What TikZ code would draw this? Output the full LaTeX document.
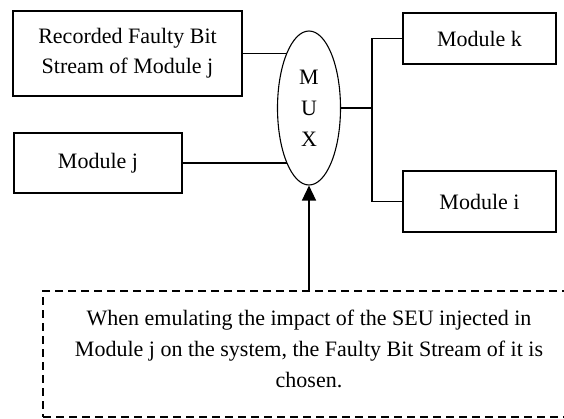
\documentclass[tikz,border=0pt]{standalone}
\usepackage{fontspec}
\setmainfont{Liberation Serif}
\usetikzlibrary{arrows.meta,shapes.geometric}
\tikzset{
  box/.style={draw, line width=2pt, rectangle, inner sep=0pt, align=center,
    font=\fontsize{22}{30}\selectfont},
  muxshape/.style={draw, line width=1.1pt, ellipse, inner sep=0pt, align=center,
    font=\fontsize{22}{31}\selectfont},
  wire/.style={line width=1.4pt},
  notebox/.style={draw, line width=2pt, dash pattern=on 8pt off 5pt, rectangle, inner sep=0pt},
  notetext/.style={align=center, font=\fontsize{22}{31}\selectfont, inner sep=0pt},
}
\begin{document}
\begin{tikzpicture}[x=1pt,y=-1pt]
\useasboundingbox (0,0) rectangle (564,418);
\clip (0,0) rectangle (564,418);
\node[box, minimum width=229pt, minimum height=85pt] (rec) at (127.5,53.5) {Recorded Faulty Bit\\Stream of Module j};
\node[box, minimum width=168pt, minimum height=60pt] (modj) at (98,163) {Module j};
\node[muxshape, minimum width=63pt, minimum height=154pt] (mux) at (309,108) {M\\U\\X};
\node[box, minimum width=153pt, minimum height=51pt] (modk) at (479.5,38.5) {Module k};
\node[box, minimum width=153pt, minimum height=61pt] (modi) at (479.5,201.5) {Module i};
\node[notebox, minimum width=532pt, minimum height=126pt] (note) at (309,354) {};
\node[notetext] (notetxt) at (309,349) {When emulating the impact of the SEU injected in\\Module j on the system, the Faulty Bit Stream of it is\\chosen.};
\coordinate (bus) at (372,108);
\draw[wire] (rec.east) -- (rec.east -| mux.112);
\draw[wire] (modj.east) -- (modj.east -| mux.248);
\draw[wire] (mux.east) -- (bus);
\draw[wire] (modk.west) -| (bus) |- (modi.west);
\draw[wire, -{Triangle[length=15pt,width=14pt]}] (note.north -| mux.south) -- (mux.south);
\end{tikzpicture}
\end{document}
